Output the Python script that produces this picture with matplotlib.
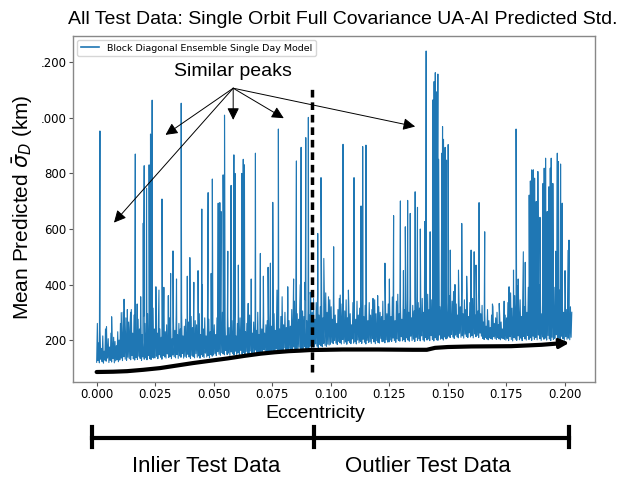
import numpy as np
import matplotlib
matplotlib.use("Agg")
import matplotlib.pyplot as plt
from matplotlib.lines import Line2D

# ---------------- data ----------------
ecc_max = 0.2026

# dense noisy band: a low and a high value at each eccentricity step
band_low = [
    # 0.000-0.010
    120, 126, 118, 131, 122, 117, 128, 124, 135, 119, 127, 121, 133, 118, 125, 129, 122,
    # 0.010-0.025
    128, 135, 126, 140, 131, 127, 138, 133, 129, 145, 132, 128, 137, 130, 142, 134, 127, 139, 131, 136,
    129, 144, 133, 130, 138, 135,
    # 0.025-0.050
    136, 142, 133, 147, 138, 131, 144, 139, 135, 150, 137, 141, 133, 146, 140, 136, 148, 134, 143, 138,
    152, 135, 141, 137, 149, 139, 134, 145, 140, 136, 151, 138, 143, 135, 147, 141, 137, 153, 139, 144,
    136, 148, 142,
    # 0.050-0.075
    146, 152, 144, 158, 149, 145, 155, 150, 147, 162, 148, 153, 145, 157, 151, 146, 160, 149, 154, 147,
    163, 150, 156, 148, 159, 152, 146, 161, 151, 155, 149, 164, 153, 148, 158, 152, 150, 166, 154, 157,
    151, 162, 155,
    # 0.075-0.092
    156, 162, 154, 168, 159, 157, 166, 161, 158, 172, 160, 165, 158, 170, 163, 160, 175, 162, 167, 161,
    174, 164, 169, 162, 176, 166, 171, 164, 178,
    # 0.092-0.100
    172, 180, 175, 186, 178, 173, 184, 179, 176, 188, 181, 177, 185, 182,
    # 0.100-0.125
    185, 192, 187, 198, 189, 184, 195, 190, 186, 202, 188, 193, 185, 197, 191, 187, 204, 189, 194, 186,
    200, 190, 195, 188, 203, 192, 186, 199, 191, 194, 188, 205, 193, 187, 198, 191, 189, 206, 194, 196,
    190, 201, 193,
    # 0.125-0.150
    193, 200, 195, 207, 198, 192, 204, 199, 196, 212, 197, 202, 194, 208, 200, 196, 214, 198, 203, 195,
    210, 199, 205, 197, 215, 201, 196, 209, 200, 204, 198, 216, 202, 197, 208, 201, 199, 218, 203, 206,
    200, 211, 204,
    # 0.150-0.165
    207, 214, 209, 220, 211, 206, 218, 212, 208, 224, 210, 215, 207, 221, 213, 209, 226, 211, 216, 208,
    222, 212, 217, 209, 225, 214,
    # 0.165-0.175
    206, 202, 210, 204, 201, 208, 205, 203, 212, 206, 202, 209, 204, 201, 207, 205, 203,
    # 0.175-0.2026
    200, 206, 198, 212, 202, 197, 209, 203, 199, 215, 201, 207, 198, 213, 204, 200, 217, 202, 208, 199,
    214, 203, 209, 201, 218, 205, 199, 211, 203, 207, 200, 216, 204, 198, 210, 202, 206, 219, 203, 208,
    200, 214, 205, 199, 212, 203, 207, 201, 210,
]
band_high = [
    # 0.000-0.010
    250, 190, 235, 170, 215, 160, 240, 185, 205, 175, 225, 165, 210, 195, 180, 230, 200,
    # 0.010-0.025
    260, 215, 300, 235, 280, 205, 265, 245, 310, 225, 290, 250, 200, 275, 240, 305, 220, 285, 260, 230,
    295, 210, 270, 250, 315, 240,
    # 0.025-0.050
    270, 225, 285, 240, 210, 265, 295, 230, 255, 215, 280, 245, 205, 270, 235, 290, 220, 260, 240, 300,
    215, 250, 275, 230, 265, 210, 285, 245, 225, 270, 255, 235, 295, 220, 260, 240, 280, 215, 250, 275,
    230, 265, 245,
    # 0.050-0.075
    255, 220, 280, 240, 210, 265, 300, 230, 250, 215, 285, 245, 225, 270, 235, 295, 215, 260, 240, 280,
    220, 250, 275, 230, 260, 210, 290, 245, 225, 265, 255, 235, 300, 220, 260, 240, 285, 225, 255, 270,
    240, 295, 250,
    # 0.075-0.092
    250, 295, 235, 315, 265, 240, 285, 330, 255, 300, 245, 320, 270, 250, 310, 280, 340, 260, 295, 275,
    325, 255, 305, 285, 345, 270, 310, 290, 355,
    # 0.092-0.100
    300, 350, 275, 335, 365, 290, 320, 355, 280, 340, 370, 300, 325, 345,
    # 0.100-0.125
    320, 275, 340, 290, 260, 310, 350, 285, 330, 265, 305, 345, 280, 320, 295, 255, 335, 300, 275, 340,
    290, 315, 265, 350, 285, 325, 300, 270, 335, 290, 310, 280, 345, 295, 260, 320, 300, 285, 340, 270,
    315, 295, 330,
    # 0.125-0.150
    330, 285, 355, 300, 270, 340, 365, 295, 320, 275, 350, 310, 285, 345, 300, 360, 280, 325, 305, 355,
    290, 335, 315, 270, 350, 300, 340, 285, 365, 310, 295, 345, 280, 330, 305, 355, 290, 320, 340, 275,
    350, 300, 335,
    # 0.150-0.165
    310, 360, 285, 340, 375, 300, 330, 290, 355, 320, 380, 295, 345, 310, 365, 285, 335, 300, 350, 320,
    290, 340, 305, 360, 295, 325,
    # 0.165-0.175
    265, 295, 250, 310, 270, 245, 290, 320, 260, 280, 300, 255, 285, 265, 240, 275, 290,
    # 0.175-0.2026
    280, 335, 300, 370, 315, 290, 360, 330, 395, 305, 345, 285, 380, 320, 350, 300, 390, 335, 310, 365,
    290, 340, 375, 315, 400, 330, 295, 355, 320, 385, 305, 345, 370, 300, 335, 390, 315, 350, 295, 380,
    325, 360, 300, 345, 310, 330, 295, 320, 300,
]

spike_ecc = [
    0.0003, 0.0014, 0.0042, 0.0064, 0.0105, 0.0117, 0.0165, 0.0188, 0.0199, 0.0203,
    0.0213, 0.0224, 0.0230, 0.0237, 0.0253, 0.0279, 0.0326, 0.0341, 0.0361, 0.0398,
    0.0415, 0.0433, 0.0449, 0.0476, 0.0494, 0.0519, 0.0526, 0.0531, 0.0540, 0.0546,
    0.0574, 0.0586, 0.0591, 0.0620, 0.0626, 0.0631, 0.0647, 0.0678, 0.0699, 0.0732,
    0.0742, 0.0752, 0.0776, 0.0792, 0.0816, 0.0841, 0.0853, 0.0873, 0.0893, 0.0904,
    0.0944, 0.0958, 0.0970, 0.1012, 0.1052, 0.1099, 0.1129, 0.1136, 0.1150, 0.1231,
    0.1268, 0.1297, 0.1318, 0.1328, 0.1339, 0.1360, 0.1370, 0.1382, 0.1401, 0.1407,
    0.1424, 0.1436, 0.1441, 0.1446, 0.1450, 0.1457, 0.1460, 0.1474, 0.1477, 0.1481,
    0.1488, 0.1494, 0.1501, 0.1510, 0.1545, 0.1559, 0.1599, 0.1612, 0.1633, 0.1657,
    0.1719, 0.1761, 0.1780, 0.1791, 0.1822, 0.1847, 0.1852, 0.1858, 0.1865, 0.1870,
    0.1877, 0.1884, 0.1893, 0.1906, 0.1911, 0.1917, 0.1924, 0.1931, 0.1937, 0.1941,
    0.1948, 0.1967, 0.1972, 0.1981, 0.1988, 0.2014, 0.2017,
    # medium-height spikes on top of the band
    0.0131, 0.0145, 0.0173, 0.0266, 0.0287, 0.0306, 0.0316, 0.0387, 0.0451, 0.0489,
    0.0560, 0.0605, 0.0660, 0.0712, 0.0770, 0.0870, 0.0889, 0.0912, 0.0990, 0.1040,
    0.1075, 0.1180, 0.1200, 0.1250, 0.1310, 0.1530, 0.1580, 0.1620, 0.1690, 0.1740,
    0.1800, 0.1830, 0.1960, 0.2000,
]
spike_val = [
    260, 953, 248, 284, 299, 347, 870, 356, 621, 828,
    747, 831, 942, 1064, 392, 708, 521, 420, 1053, 497,
    408, 450, 672, 731, 780, 693, 695, 663, 795, 1010,
    757, 867, 800, 800, 851, 831, 332, 873, 512, 462,
    477, 696, 960, 356, 392, 420, 845, 894, 929, 1002,
    584, 785, 494, 536, 905, 785, 683, 897, 902, 477,
    648, 701, 608, 703, 656, 734, 678, 600, 627, 1241,
    590, 1065, 1131, 1163, 1094, 1158, 851, 873, 969, 923,
    894, 848, 904, 524, 452, 620, 524, 518, 695, 590,
    332, 392, 452, 960, 518, 722, 773, 813, 813, 783,
    699, 807, 642, 764, 819, 855, 663, 752, 819, 855,
    764, 873, 843, 834, 693, 524, 560,
    310, 300, 330, 380, 390, 360, 440, 430, 400, 440,
    520, 470, 420, 430, 380, 400, 408, 372, 356, 362,
    380, 350, 360, 420, 450, 400, 430, 470, 330, 340,
    420, 480, 520, 450,
]

x_ticks = [0.000, 0.025, 0.050, 0.075, 0.100, 0.125, 0.150, 0.175, 0.200]
x_tick_labels = ["0.000", "0.025", "0.050", "0.075", "0.100", "0.125", "0.150", "0.175", "0.200"]
y_ticks = [200, 400, 600, 800, 1000, 1200]
y_tick_labels = ["200", "400", "600", "800", ".000", ".200"]

split_ecc = 0.0921          # inlier / outlier boundary (dashed line)

# hand-drawn trend curve under the data
trend_ecc = [0.0, 0.007, 0.013, 0.020, 0.027, 0.034, 0.041, 0.048, 0.056, 0.063, 0.070, 0.076,
             0.082, 0.087, 0.091, 0.098, 0.105, 0.120, 0.135, 0.141, 0.1445, 0.150, 0.160, 0.177,
             0.190, 0.1975]
trend_val = [85, 86, 88, 93, 99, 108, 117, 125, 134, 143, 151, 156,
             160, 162, 164, 165, 166, 166, 165, 165, 172, 175, 177, 178,
             183, 188]

# "Similar peaks" arrows: origin and targets
peaks_origin = (0.0583, 1107)
peaks_targets_ecc = [0.0294, 0.0074, 0.0583, 0.0799, 0.1360]
peaks_targets_val = [939, 623, 993, 999, 969]

# ---------------- drawing ----------------
n = len(band_low)
step_x = np.linspace(0.0, ecc_max, n)
half = ecc_max / (n - 1) / 2
band_x = np.ravel(np.column_stack([step_x, step_x + half]))
band_y = np.ravel(np.column_stack([np.array(band_low, float), np.array(band_high, float)]))
all_x = np.concatenate([band_x, np.array(spike_ecc)])
all_y = np.concatenate([band_y, np.array(spike_val, float)])
order = np.argsort(all_x, kind="stable")

W, H = 624, 480
fig = plt.figure(figsize=(W / 100, H / 100), dpi=100)
ax = fig.add_axes([73 / W, 1 - 382 / H, (595 - 73) / W, (382 - 36) / H])

ax.plot(all_x[order], all_y[order], color="#1f77b4", lw=0.8,
        label="Block Diagonal Ensemble Single Day Model")

ax.set_xlim(-0.0101, 0.2128)
ax.set_ylim(49, 1295)
ax.set_xticks(x_ticks)
ax.set_xticklabels(x_tick_labels)
ax.set_yticks(y_ticks)
ax.set_yticklabels(y_tick_labels)
ax.tick_params(labelsize=8.5, color="#555555", length=3, pad=1.5)
for s in ax.spines.values():
    s.set_color("#888888")
    s.set_linewidth(1.0)

leg = ax.legend(loc="upper left", fontsize=6.8, frameon=True, handlelength=2.0,
                borderaxespad=0.4)
leg.get_frame().set_edgecolor("#cccccc")
for h in leg.get_lines():
    h.set_linewidth(1.2)

# dashed split line
ax.plot([split_ecc, split_ecc], [86, 1119], color="k", lw=2.5, dashes=(2.2, 1.4))

# trend curve with arrow head
ax.plot(trend_ecc, trend_val, color="k", lw=3, solid_capstyle="round", solid_joinstyle="round")
ax.annotate("", xy=(0.2018, 190), xytext=(trend_ecc[-1], trend_val[-1]),
            arrowprops=dict(arrowstyle="-|>", color="k", lw=2.5, mutation_scale=14,
                            shrinkA=0, shrinkB=0))

# similar peaks annotation
ax.text(0.058, 1168, "Similar peaks", ha="center", va="center", fontsize=14,
        family="Liberation Sans")
for tx, ty in zip(peaks_targets_ecc, peaks_targets_val):
    ax.annotate("", xy=(tx, ty), xytext=peaks_origin,
                arrowprops=dict(arrowstyle="-|>", color="k", lw=0.7, mutation_scale=18,
                                shrinkA=0, shrinkB=0))

# title / labels
fig.text(343 / W, 1 - 19 / H, "All Test Data: Single Orbit Full Covariance UA-AI Predicted Std.",
         ha="center", va="center", fontsize=14, family="Liberation Sans")
fig.text(23 / W, 1 - 207 / H, r"Mean Predicted $\bar{\sigma}_D$ (km)", rotation=90,
         ha="center", va="center", fontsize=15, family="Liberation Sans")
fig.text(315 / W, 1 - 413 / H, "Eccentricity", ha="center", va="center", fontsize=14,
         family="Liberation Sans")

# bracket below the axis
by = 1 - 438 / H
bx = [92 / W, 314 / W, 569 / W]
fig.add_artist(Line2D([bx[0], bx[2]], [by, by], transform=fig.transFigure, color="k", lw=3))
for xx in bx:
    fig.add_artist(Line2D([xx, xx], [1 - 427 / H, 1 - 447 / H], transform=fig.transFigure,
                          color="k", lw=3))
fig.text(206 / W, 1 - 466 / H, "Inlier Test Data", ha="center", va="center", fontsize=16,
         family="Liberation Sans")
fig.text(428 / W, 1 - 466 / H, "Outlier Test Data", ha="center", va="center", fontsize=16,
         family="Liberation Sans")

fig.savefig("out.png", dpi=100)
